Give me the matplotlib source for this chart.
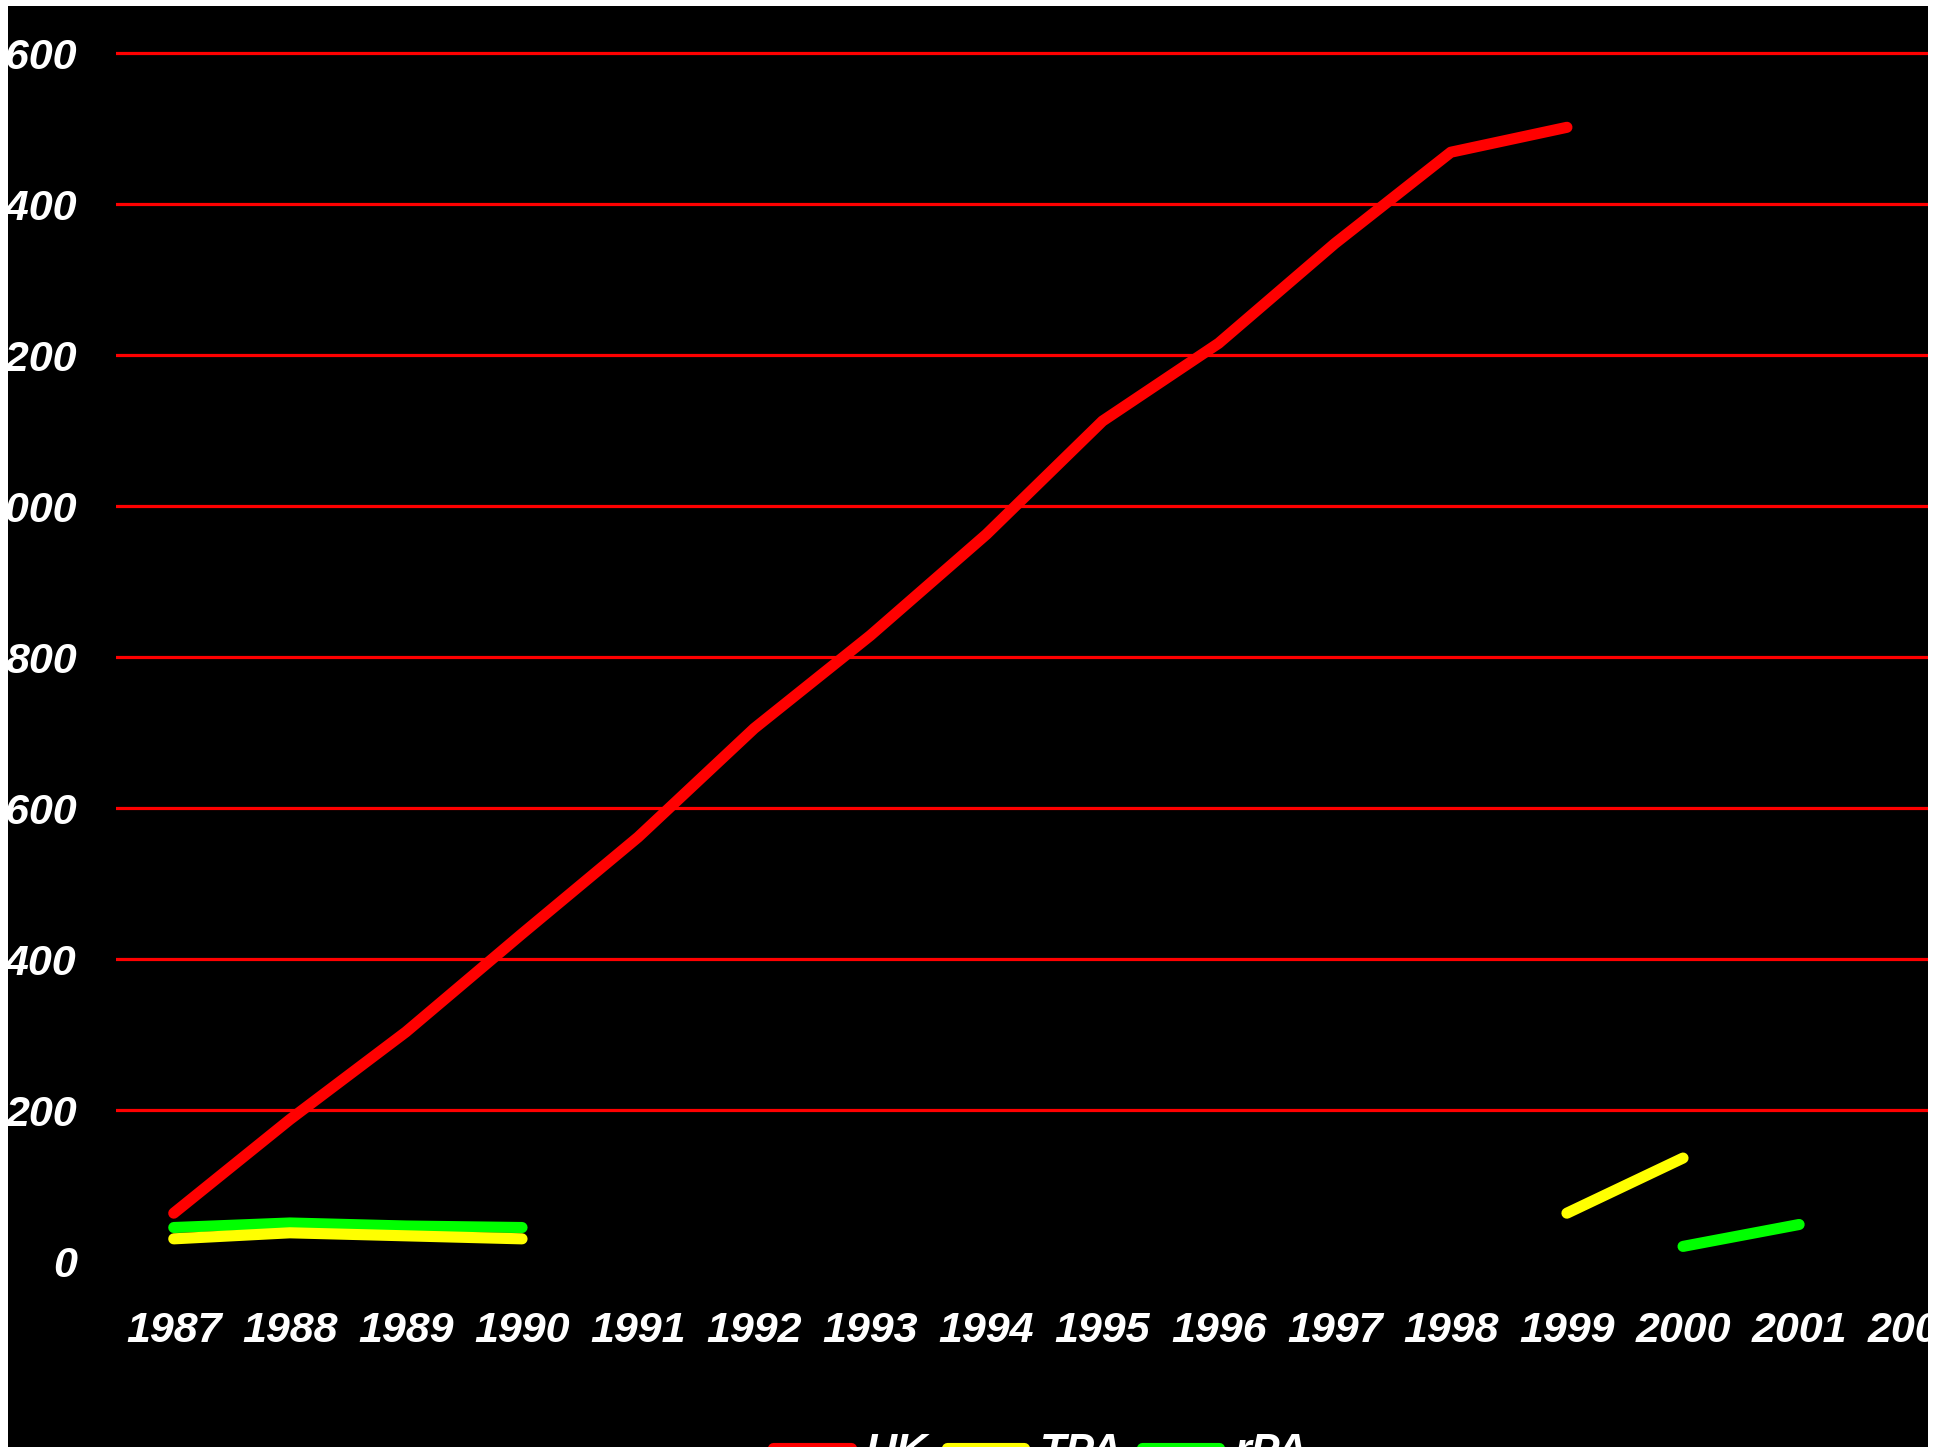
#!/usr/bin/env python3
"""UK vs TPA vs rPA line chart on a black slide background."""

import matplotlib

matplotlib.use("Agg")
import matplotlib.pyplot as plt
import numpy as np
from matplotlib.font_manager import FontProperties
from matplotlib.patches import Rectangle

nan = np.nan

YEARS = [str(y) for y in range(1987, 2003)]
UK = [64, 188, 304, 434, 562, 706, 829, 963, 1113, 1216, 1348, 1469, 1502, nan, nan, nan]
TPA = [30, 38, 34, 30, nan, nan, nan, nan, nan, nan, nan, nan, 64, 137, nan, nan]
RPA = [45, 51, 47, 45, nan, nan, nan, nan, nan, nan, nan, nan, nan, 20, 49, nan]
Y_TICKS = list(range(0, 1601, 200))

W, H = 1954, 1447


def font(size=31):
    return FontProperties(family="Liberation Sans", weight="bold", style="italic", size=size)


fig = plt.figure(figsize=(W / 100, H / 100), dpi=100, facecolor="black")

# axes placed in pixel terms
left, right = 115.7, 1928.0
bottom_px, top_px = 1276.6, 38.2
ax = fig.add_axes([left / W, 1 - bottom_px / H, (right - left) / W, (bottom_px - top_px) / H])
ax.set_facecolor("black")
for spine in ax.spines.values():
    spine.set_visible(False)

x = np.arange(len(YEARS))
lw = 8
style = dict(linewidth=lw, solid_capstyle="round", solid_joinstyle="round")
ax.plot(x, RPA, color="#00FF00", label="rPA", zorder=3, **style)
ax.plot(x, TPA, color="#FFFF00", label="TPA", zorder=4, **style)
ax.plot(x, UK, color="#FF0000", label="UK", zorder=5, **style)

ax.set_xlim(-0.5, 15.11)
ax.set_ylim(-20, 1620)
ax.set_xticks(x)
ax.set_xticklabels(YEARS)
ax.set_yticks(Y_TICKS)
ax.set_yticklabels([str(v) for v in Y_TICKS])
ax.tick_params(axis="x", length=0, pad=24.5)
ax.tick_params(axis="y", length=0, pad=28)
for lab in ax.get_xticklabels() + ax.get_yticklabels():
    lab.set_fontproperties(font())
    lab.set_color("white")

ax.yaxis.grid(True, color="#FF0000", linewidth=2.3)
ax.set_axisbelow(True)
ax.get_ygridlines()[0].set_visible(False)

handles, labels = ax.get_legend_handles_labels()
order = [2, 1, 0]
leg = fig.legend(
    [handles[i] for i in order],
    [labels[i] for i in order],
    loc="upper left",
    bbox_to_anchor=(773 / W, 1 - 1432 / H),
    ncol=3,
    frameon=False,
    borderpad=0,
    borderaxespad=0,
    handlelength=1.8,
    handletextpad=0.35,
    columnspacing=0.45,
    prop=font(),
)
for t in leg.get_texts():
    t.set_color("white")

# white margins from the cropped slide
for (x0, y0, w, h) in [(0, 0, 8, H), (0, 0, W, 6), (1928, 0, W - 1928, H)]:
    fig.add_artist(Rectangle((x0 / W, 1 - (y0 + h) / H), w / W, h / H,
                             transform=fig.transFigure, facecolor="white",
                             edgecolor="none", zorder=20))

fig.savefig("out.png", dpi=100, facecolor="black")
